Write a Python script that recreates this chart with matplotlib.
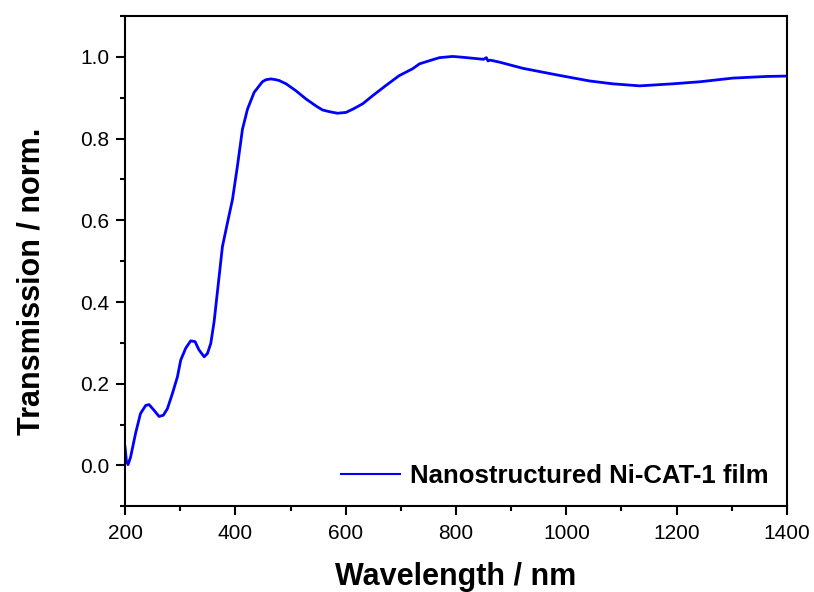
import matplotlib
matplotlib.use("Agg")
import matplotlib.pyplot as plt
from matplotlib.ticker import MultipleLocator

plt.rcParams['font.family'] = ['Liberation Sans', 'DejaVu Sans']

# Transmission spectrum of the Ni-CAT-1 film
wavelength_nm = [
    200, 202.4, 205.4, 210, 219, 228, 237.5, 243.6, 252.6, 261.7, 269.5,
    276.8, 285.9, 295, 301, 310, 319, 327, 334, 343.4, 349.4, 355.5, 361.5,
    370.6, 376.6, 385.7, 394.8, 403.8, 412.9, 422, 434, 449, 455.4, 464.4,
    473.5, 479.5, 492, 509.8, 528, 546, 558, 570, 585, 600.5, 613, 630.7,
    649, 673, 697, 721.5, 734, 757.7, 770, 794, 812, 850, 855, 858, 862,
    879, 921, 982, 1042, 1084, 1133, 1193, 1242, 1302, 1363, 1400,
]
transmission = [
    0.045, 0.012, 0.002, 0.020, 0.078, 0.127, 0.147, 0.149, 0.135, 0.120,
    0.123, 0.139, 0.176, 0.217, 0.258, 0.287, 0.305, 0.303, 0.283, 0.266,
    0.274, 0.299, 0.352, 0.463, 0.536, 0.594, 0.651, 0.733, 0.823, 0.872,
    0.913, 0.939, 0.944, 0.946, 0.944, 0.942, 0.934, 0.917, 0.897, 0.880,
    0.870, 0.866, 0.862, 0.864, 0.872, 0.885, 0.905, 0.930, 0.954, 0.971,
    0.983, 0.993, 0.998, 1.001, 0.999, 0.994, 0.998, 0.990, 0.992, 0.987,
    0.972, 0.956, 0.941, 0.934, 0.929, 0.934, 0.939, 0.948, 0.952, 0.953,
]

x_ticks = [200, 400, 600, 800, 1000, 1200, 1400]
y_ticks = [0.0, 0.2, 0.4, 0.6, 0.8, 1.0]

fig = plt.figure(figsize=(8.14, 5.92), dpi=100)
ax = fig.add_axes([0.1536, 0.1447, 0.8132, 0.8283])

ax.plot(wavelength_nm, transmission, color='#0000ff', lw=2.0,
        label='Nanostructured Ni-CAT-1 film')

ax.set_xlim(200, 1400)
ax.set_ylim(-0.1, 1.1)
ax.set_xticks(x_ticks)
ax.set_yticks(y_ticks)
ax.set_yticklabels([f"{v:.1f}" for v in y_ticks])
ax.xaxis.set_minor_locator(MultipleLocator(100))
ax.yaxis.set_minor_locator(MultipleLocator(0.1))

for s in ax.spines.values():
    s.set_linewidth(1.5)
    s.set_color('black')

ax.tick_params(which='major', direction='out', length=6.5, width=1.5,
               labelsize=15, pad=5, top=False, right=False)
ax.tick_params(axis='x', which='major', pad=6)
ax.tick_params(which='minor', direction='out', length=3.5, width=1.5,
               top=False, right=False)

ax.set_xlabel('Wavelength / nm', fontsize=22, fontweight='bold')
ax.set_ylabel('Transmission / norm.', fontsize=22, fontweight='bold')
ax.xaxis.set_label_coords(0.5, -0.114)
ax.yaxis.set_label_coords(-0.119, 0.459)

leg = ax.legend(loc='lower right', frameon=False,
                prop={'weight': 'bold', 'size': 18.5}, handlelength=2.3,
                handletextpad=0.4, borderaxespad=0.3)
for h in leg.get_lines():
    h.set_linewidth(1.5)

fig.savefig('out.png', dpi=100)
